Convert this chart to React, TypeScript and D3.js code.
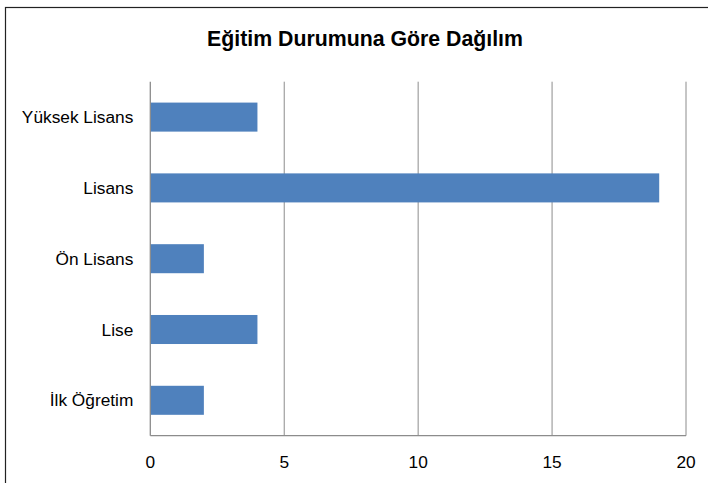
import React from "react";
import * as d3 from "d3";

const categories = ["Yüksek Lisans", "Lisans", "Ön Lisans", "Lise", "İlk Öğretim"];
const values = [4, 19, 2, 4, 2];
const xTicks = [0, 5, 10, 15, 20];
const title = "Eğitim Durumuna Göre Dağılım";

const W = 708;
const H = 483;
const plot = { left: 150.3, right: 686, top: 81.7, bottom: 435.7 };
const FONT = "'Liberation Sans', Arial, sans-serif";

export default function App() {
  const x = d3.scaleLinear().domain([0, 20]).range([plot.left, plot.right]);
  const y = d3
    .scaleBand<string>()
    .domain(categories)
    .range([plot.top, plot.bottom])
    .paddingInner(0.59)
    .paddingOuter(0.295);

  return (
    <svg
      width={W}
      height={H}
      style={{ position: "absolute", left: 0, top: 0, background: "#fff" }}
    >
      <rect x={5.5} y={7.5} width={W + 10} height={H + 10} fill="#fff" stroke="#222" strokeWidth={1.2} />
      <text
        x={365}
        y={46}
        textAnchor="middle"
        fontFamily={FONT}
        fontWeight="bold"
        fontSize={21.3}
        fill="#000"
      >
        {title}
      </text>
      {xTicks.slice(1).map((t) => (
        <line
          key={"g" + t}
          x1={x(t)}
          x2={x(t)}
          y1={plot.top}
          y2={plot.bottom}
          stroke="#8c8c8c"
          strokeWidth={1}
        />
      ))}
      {categories.map((c, i) => (
        <rect
          key={c}
          x={x(0)}
          y={y(c)}
          width={x(values[i]) - x(0)}
          height={y.bandwidth()}
          fill="#4F81BD"
        />
      ))}
      <line x1={plot.left} x2={plot.left} y1={plot.top} y2={plot.bottom} stroke="#8c8c8c" strokeWidth={1.3} />
      <line x1={plot.left} x2={plot.right} y1={plot.bottom} y2={plot.bottom} stroke="#8c8c8c" strokeWidth={1.3} />
      {categories.map((c) => (
        <text
          key={"l" + c}
          x={plot.left - 17}
          y={(y(c) ?? 0) + y.bandwidth() / 2 + 6}
          textAnchor="end"
          fontFamily={FONT}
          fontSize={17.3}
          fill="#000"
        >
          {c}
        </text>
      ))}
      {xTicks.map((t) => (
        <text
          key={"t" + t}
          x={x(t)}
          y={468}
          textAnchor="middle"
          fontFamily={FONT}
          fontSize={17.3}
          fill="#000"
        >
          {t}
        </text>
      ))}
    </svg>
  );
}
